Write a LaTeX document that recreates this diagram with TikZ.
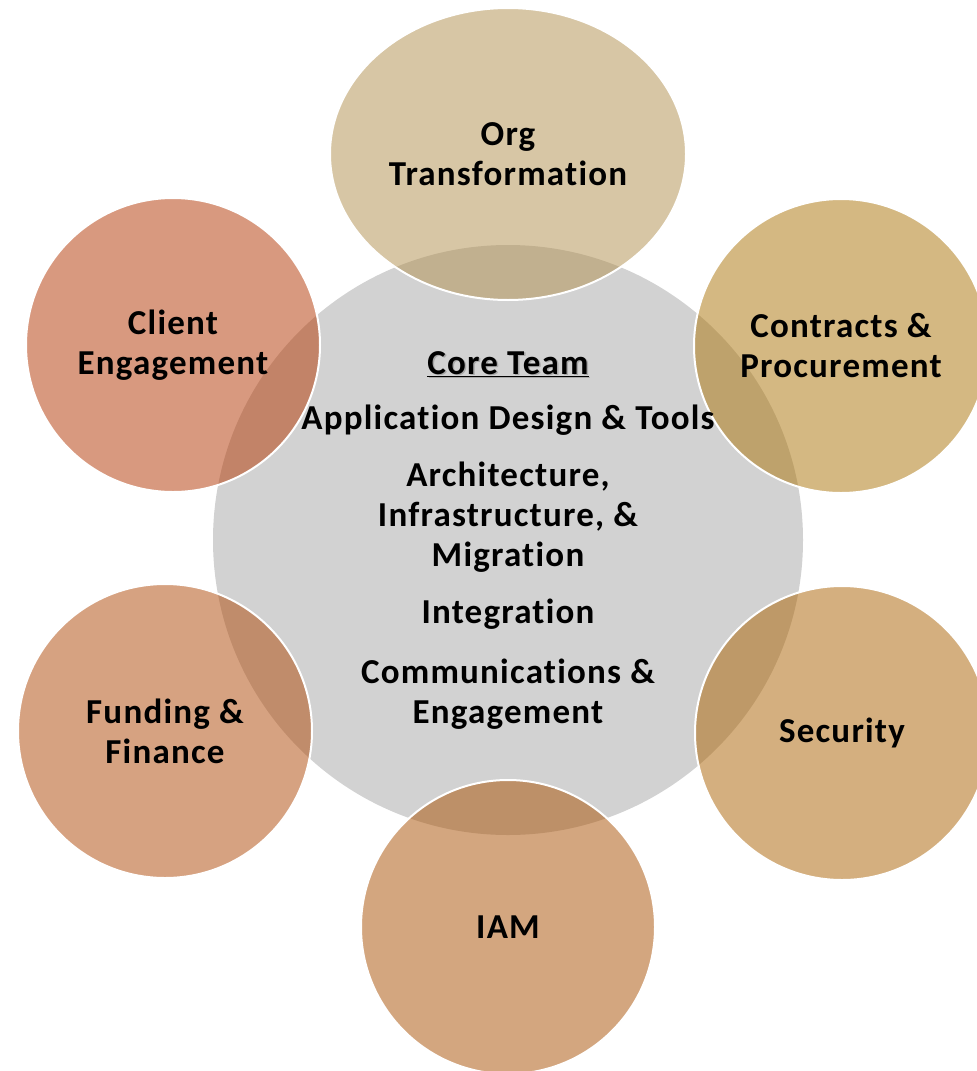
\documentclass[tikz,border=0pt]{standalone}
\usepackage{fontspec}
\setmainfont{Carlito}[LetterSpace=3.5, Ligatures={NoCommon}]
\usetikzlibrary{shapes.geometric}
\definecolor{coregray}{RGB}{210,210,210}
\definecolor{cOrg}{RGB}{177,143,77}
\definecolor{cClient}{RGB}{179,53,0}
\definecolor{cFund}{RGB}{175,71,5}
\definecolor{cIAM}{RGB}{169,79,0}
\definecolor{cSec}{RGB}{171,97,0}
\definecolor{cCon}{RGB}{171,115,7}
\tikzset{
  lbl/.style={font=\fontsize{35}{40}\selectfont\bfseries, align=center, text=black, inner sep=0pt},
  petal/.style={circle, minimum size=294pt, inner sep=0pt, draw=white, line width=2pt,
     fill opacity=0.5, draw opacity=1, text opacity=1, lbl},
}
\begin{document}
\begin{tikzpicture}[x=1pt,y=-1pt]
\useasboundingbox[fill=white] (0,0) rectangle (977,1071);
\node[circle, minimum size=590pt, inner sep=0pt, fill=coregray] (core) at (508,540) {};
\node[ellipse, minimum width=356pt, minimum height=292pt, inner sep=0pt, draw=white, line width=2pt,
     fill=cOrg, fill opacity=0.5, text opacity=1, lbl] (org) at (508,154) {Org\\Transformation};
\node[petal, fill=cCon] (con) at (841,346) {Contracts \&\\Procurement};
\node[petal, fill=cSec] (sec) at (842,733) {Security};
\node[petal, fill=cIAM] (iam) at (508,927) {IAM};
\node[petal, fill=cFund] (fund) at (165,731) {Funding \&\\Finance};
\node[petal, fill=cClient] (client) at (173,345) {Client\\Engagement};
\node[lbl, text=black!45, opacity=0.6] (coreshadow) at (509.5,365.5) {\underline{Core Team}};
\node[lbl] (coretitle) at (508,364) {\underline{Core Team}};
\node[lbl] (p1) at (508,420) {Application Design \& Tools};
\node[lbl] (p2) at (508,517) {Architecture,\\Infrastructure, \&\\Migration};
\node[lbl] (p3) at (508,614) {Integration};
\node[lbl] (p4) at (508,694) {Communications \&\\Engagement};
\end{tikzpicture}
\end{document}
